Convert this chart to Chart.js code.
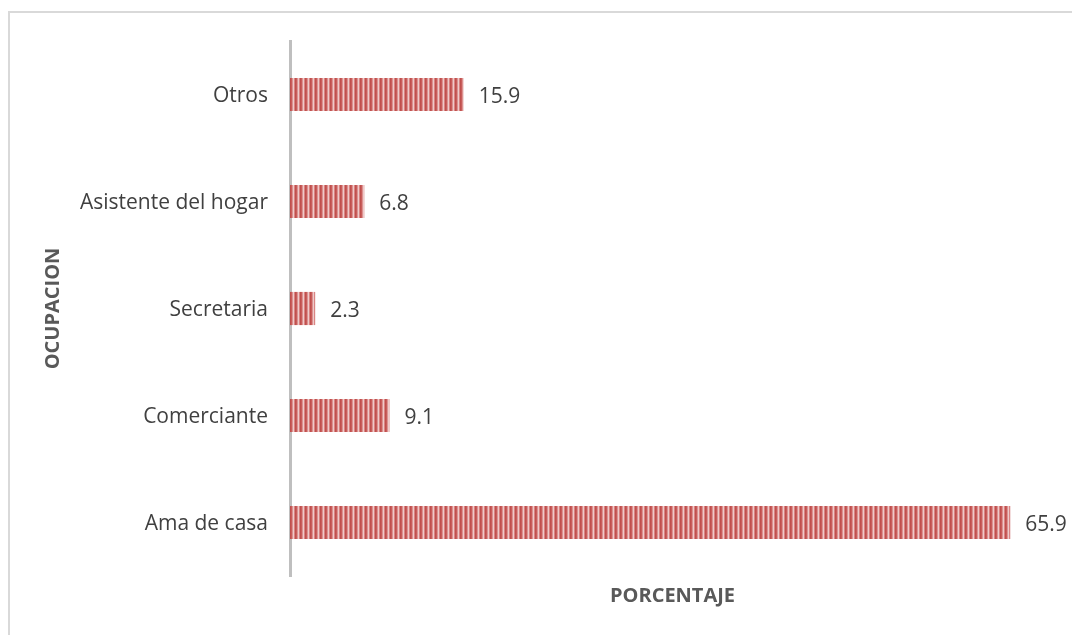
<!DOCTYPE html>
<html>
<head>
<meta charset="utf-8">
<script src="https://cdn.jsdelivr.net/npm/chart.js@4.4.1/dist/chart.umd.min.js"></script>
<style>
  html, body { margin: 0; padding: 0; background: #ffffff; }
  #wrap { width: 1072px; height: 635px; position: relative; }
</style>
</head>
<body>
<div id="wrap"><canvas id="c" width="1072" height="635"></canvas></div>
<script>
// Occupation categories, listed top to bottom
const categories = ['Otros', 'Asistente del hogar', 'Secretaria', 'Comerciante', 'Ama de casa'];
// Percentage for each occupation
const percentages = [15.9, 6.8, 2.3, 9.1, 65.9];
const yTitle = 'OCUPACION';
const xTitle = 'PORCENTAJE';

const FONT = '"Open Sans", sans-serif';

// Vertical-stripe fill for the bars
function stripePattern() {
  const cols = ['#c0504d', '#c85e5c', '#dc9291', '#efcac9', '#d98584'];
  const pc = document.createElement('canvas');
  pc.width = cols.length; pc.height = 1;
  const g = pc.getContext('2d');
  cols.forEach((c, i) => { g.fillStyle = c; g.fillRect(i, 0, 1, 1); });
  return g.createPattern(pc, 'repeat');
}

// Thin frame around the chart
const framePlugin = {
  id: 'frame',
  beforeDraw(chart) {
    const ctx = chart.ctx;
    ctx.save();
    ctx.strokeStyle = '#d9d9d9';
    ctx.lineWidth = 2;
    ctx.strokeRect(9, 12, 3000, 3000);
    ctx.restore();
  }
};

// Value labels at the end of each bar
const valueLabels = {
  id: 'valueLabels',
  afterDatasetsDraw(chart) {
    const ctx = chart.ctx;
    const meta = chart.getDatasetMeta(0);
    ctx.save();
    ctx.font = '21px ' + FONT;
    ctx.fillStyle = '#404040';
    ctx.textAlign = 'left';
    ctx.textBaseline = 'middle';
    meta.data.forEach((bar, i) => {
      ctx.fillText(percentages[i].toFixed(1), bar.x + 15, bar.y + 3);
    });
    ctx.restore();
  }
};

new Chart(document.getElementById('c'), {
  type: 'bar',
  data: {
    labels: categories,
    datasets: [{
      data: percentages,
      backgroundColor: stripePattern(),
      borderWidth: 0,
      categoryPercentage: 1,
      barPercentage: 0.31
    }]
  },
  options: {
    indexAxis: 'y',
    responsive: false,
    animation: false,
    layout: { padding: { top: 41, right: 17, left: 0, bottom: 0 } },
    plugins: { legend: { display: false }, tooltip: { enabled: false } },
    scales: {
      x: {
        min: 0, max: 70,
        grid: { display: false, drawTicks: false },
        border: { display: false },
        ticks: { display: false },
        title: {
          display: true, text: xTitle, color: '#595959',
          font: { family: FONT, size: 20, weight: 'bold' },
          padding: { top: 0, bottom: 27 }
        },
        afterFit(scale) { scale.height = 59; }
      },
      y: {
        grid: { display: false, drawTicks: false },
        border: { display: true, color: '#bfbfbf', width: 3 },
        ticks: { color: '#404040', font: { family: FONT, size: 21 }, padding: 22, labelOffset: 2 },
        title: {
          display: true, text: yTitle, color: '#595959',
          font: { family: FONT, size: 20, weight: 'bold' },
          padding: { top: 41, bottom: 0 }
        },
        afterFit(scale) { scale.width = 290; }
      }
    }
  },
  plugins: [framePlugin, valueLabels]
});
</script>
</body>
</html>
